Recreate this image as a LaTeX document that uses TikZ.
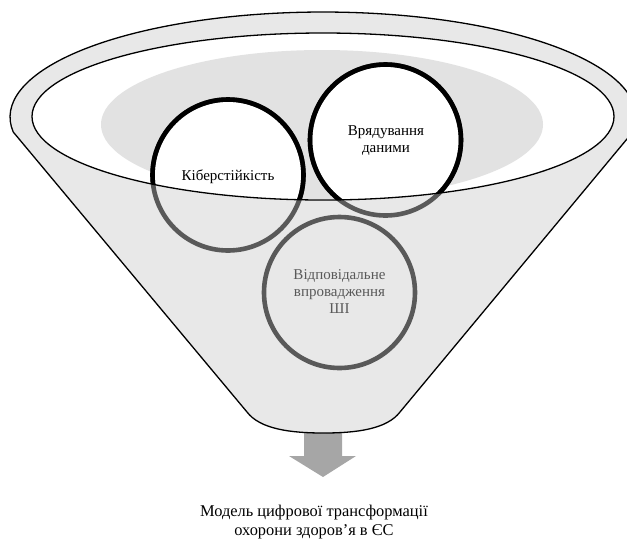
\documentclass[tikz,border=0pt]{standalone}
\usepackage{fontspec}
\setmainfont{Liberation Serif}
\definecolor{funnelfill}{RGB}{232,232,232}
\definecolor{innergray}{RGB}{226,226,226}
\definecolor{ringgray}{RGB}{89,89,89}
\definecolor{arrowgray}{RGB}{166,166,166}
\begin{document}
\begin{tikzpicture}[x=1pt,y=1pt,
  outline/.style={draw=black,line width=1.3pt,line join=round},
  ringdark/.style={draw=ringgray,line width=4.6pt},
  ringblack/.style={draw=black,line width=4.6pt},
  lbl/.style={align=center,font=\fontsize{15}{17}\selectfont,inner sep=0pt},
  captiontext/.style={align=center,font=\fontsize{16.4}{19}\selectfont,inner sep=0pt}]
\useasboundingbox (0,0) rectangle (627,-542);
% block arrow below the funnel
\fill[arrowgray] (304,-428) -- (342,-428) -- (342,-456) -- (356,-456)
  -- (323,-477) -- (289,-456) -- (304,-456) -- cycle;
% funnel body
\coordinate (rc) at (632.79,-132);
\coordinate (lc) at (13.21,-132);
\coordinate (bl) at (247,-412);
\coordinate (bm) at (323.5,-433);
\coordinate (br) at (400,-412);
\filldraw[outline,fill=funnelfill] (rc)
  arc[start angle=-8.21,end angle=188.21,x radius=313,y radius=105]
  -- (bl) .. controls (260,-429) and (290,-433) .. (bm)
  .. controls (357,-433) and (387,-429) .. (br) -- cycle;
% inner opening
\coordinate (ic) at (323,-116.5);
\fill[white] (ic) ellipse[x radius=291,y radius=83.5];
\fill[innergray] (322,-124.5) ellipse[x radius=221,y radius=74.5];
% circle centres
\coordinate (ck) at (228,-175);
\coordinate (cv) at (385.5,-140);
\coordinate (cw) at (339.5,-292.5);
\begin{scope}
  \clip (ic) ellipse[x radius=291,y radius=83.5];
  \fill[white] (ck) circle[radius=75.5];
  \fill[white] (cv) circle[radius=75.5];
\end{scope}
\draw[ringdark] (ck) circle[radius=75.5];
\draw[ringdark] (cv) circle[radius=75.5];
\draw[ringdark] (cw) circle[radius=75.5];
\begin{scope}
  \clip (ic) ellipse[x radius=291,y radius=83.5];
  \draw[ringblack] (ck) circle[radius=75.5];
  \draw[ringblack] (cv) circle[radius=75.5];
\end{scope}
\draw[outline] (ic) ellipse[x radius=291,y radius=83.5];
% labels
\node[lbl] (tk) at (228,-177) {Кіберстійкість};
\node[lbl] (tv) at (386,-140.5) {Врядування\\даними};
\node[lbl,text=ringgray] (tw) at (339.5,-291.5) {Відповідальне\\впровадження\\ШІ};
\node[captiontext] (tc) at (314,-522) {Модель цифрової трансформації\\охорони здоров’я в ЄС};
\end{tikzpicture}
\end{document}
